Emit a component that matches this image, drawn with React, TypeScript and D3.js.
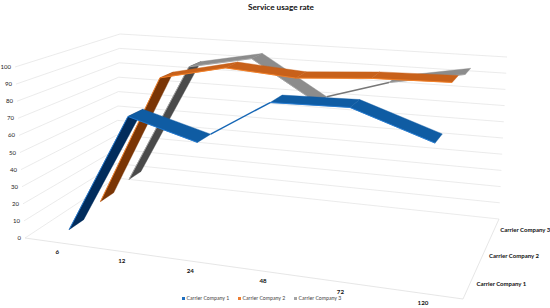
import React from 'react';
import * as d3 from 'd3';

const categories = ['6', '12', '24', '48', '72', '120'];
const seriesNames = ['Carrier Company 1', 'Carrier Company 2', 'Carrier Company 3'];
const values1 = [4, 74, 63, 89, 90, 75];
const values2 = [8, 88, 97, 94, 97, 98];
const values3 = [10, 87, 95, 70, 86, 94];
const allValues = [values1, values2, values3];
const yTicks = d3.range(0, 101, 10);

const faceColors = ['#0f5ca3', '#c8611a', '#8c8c8c'];
const darkColors = ['#012c5c', '#7a3505', '#4a4a4a'];
const edgeColors = ['#1f78d1', '#f58025', '#a5a5a5'];
const thinColors = ['#1566b5', '#c8611a', '#777777'];
const legendColors = ['#1f6fc0', '#ed7d31', '#a5a5a5'];
// segments the chart shows edge-on, as just a thin line: series index -> segment index
const edgeOnSegments = [[2], [], [3]];

// corners as [front-left, front-right, back-right, back-left]
const floorQuad = [[25, 238], [463, 299], [499, 219], [116, 178]];
const topQuad = [[15, 67], [472, 104], [507, 57], [120, 34]];

// unit square -> quad perspective map
function homography(q: number[][]) {
  const [[x0, y0], [x1, y1], [x2, y2], [x3, y3]] = q;
  const dx1 = x1 - x2, dx2 = x3 - x2, sx = x0 - x1 + x2 - x3;
  const dy1 = y1 - y2, dy2 = y3 - y2, sy = y0 - y1 + y2 - y3;
  const det = dx1 * dy2 - dx2 * dy1;
  const g = (sx * dy2 - dx2 * sy) / det;
  const h = (dx1 * sy - sx * dy1) / det;
  const a = x1 - x0 + g * x1, b = x3 - x0 + h * x3;
  const d = y1 - y0 + g * y1, e = y3 - y0 + h * y3;
  return (u: number, v: number): [number, number] => {
    const w = g * u + h * v + 1;
    return [(a * u + b * v + x0) / w, (d * u + e * v + y0) / w];
  };
}

const floor = homography(floorQuad);
const ceiling = homography(topQuad);

const xScale = d3.scalePoint<string>().domain(categories).range([0.012, 1.012]).padding(0.5);
const zScale = d3.scalePoint<string>().domain(seriesNames).range([0, 1]).padding(0.5);
const yScale = d3.scaleLinear().domain([0, 100]).range([0, 1]);

function project(u: number, v: number, value: number): [number, number] {
  const t = yScale(value);
  const a = floor(u, v);
  const b = ceiling(u, v);
  return [a[0] + (b[0] - a[0]) * t, a[1] + (b[1] - a[1]) * t];
}

const ribbonDepth = 0.075;
const line = d3.line();

export default function App() {
  const grid = yTicks.map(t => line([project(0, 0, t), project(0, 1, t), project(1, 1, t)]));
  const segments: React.ReactNode[] = [];
  // back series first so the front ones paint over them
  for (let s = seriesNames.length - 1; s >= 0; s--) {
    const vc = zScale(seriesNames[s])!;
    const vals = allValues[s];
    for (let i = 0; i < categories.length - 1; i++) {
      const u0 = xScale(categories[i])!;
      const u1 = xScale(categories[i + 1])!;
      const fa = project(u0, vc - ribbonDepth, vals[i]);
      const fb = project(u1, vc - ribbonDepth, vals[i + 1]);
      const bb = project(u1, vc + ribbonDepth, vals[i + 1]);
      const ba = project(u0, vc + ribbonDepth, vals[i]);
      if (edgeOnSegments[s].includes(i)) {
        segments.push(<path key={`${s}-${i}`} d={line([ba, fb])!} fill="none" stroke={thinColors[s]} strokeWidth={1.4} />);
        continue;
      }
      const quad = [fa, fb, bb, ba];
      // d3.polygonArea is negative here when the underside faces us
      const under = d3.polygonArea(quad as [number, number][]) < 0;
      segments.push(
        <g key={`${s}-${i}`}>
          <path d={line(quad)! + 'Z'} fill={under ? darkColors[s] : faceColors[s]} stroke={under ? darkColors[s] : faceColors[s]} strokeWidth={0.4} />
          <path d={line([fa, fb])!} fill="none" stroke={edgeColors[s]} strokeWidth={0.9} />
        </g>
      );
    }
  }

  return (
    <svg width={550} height={308} style={{ position: 'absolute', left: 0, top: 0, background: '#fff' }} fontFamily="Lato, 'Open Sans', sans-serif">
      <text x={281} y={10} textAnchor="middle" fontSize={8.2} fontWeight={700} fill="#111">Service usage rate</text>

      {grid.map((d, i) => <path key={i} d={d!} fill="none" stroke="#e6e6e6" strokeWidth={0.8} />)}
      <path d={line([project(0, 0, 0), project(1, 0, 0), project(1, 1, 0)])!} fill="none" stroke="#e0e0e0" strokeWidth={0.8} />

      {segments}

      {yTicks.map(t => {
        const p = project(0, 0, t);
        return <text key={t} x={p[0] - 4} y={p[1] + 2} textAnchor="end" fontSize={6} fill="#222">{t}</text>;
      })}
      {categories.map(c => {
        const p = project(xScale(c)!, 0, 0);
        return <text key={c} x={p[0] - 3} y={p[1] + 11.5} textAnchor="middle" fontSize={6.2} fontWeight={700} fill="#111">{c}</text>;
      })}
      {seriesNames.map(n => {
        const p = project(1, zScale(n)!, 0);
        return <text key={n} x={p[0] + 6.5} y={p[1] + 2} fontSize={6} fontWeight={700} fill="#111">{n}</text>;
      })}

      {seriesNames.map((n, i) => (
        <g key={n} transform={`translate(${182 + i * 56},300)`}>
          <rect x={0} y={-3} width={3} height={3} fill={legendColors[i]} />
          <text x={4.5} y={0} fontSize={5.2} fill="#444">{n}</text>
        </g>
      ))}
    </svg>
  );
}
